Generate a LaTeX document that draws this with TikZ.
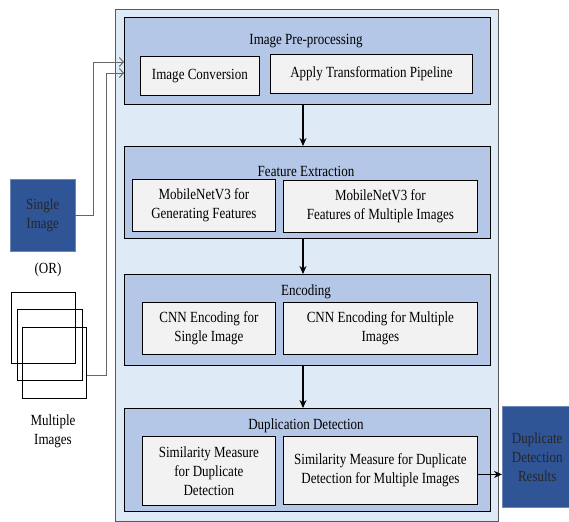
\documentclass[tikz,border=0pt]{standalone}
\usepackage{fontspec}
\setmainfont{Liberation Serif}[FakeStretch=0.84]
\usetikzlibrary{positioning,arrows.meta}

\definecolor{paneblue}{HTML}{DEEAF6}
\definecolor{stageblue}{HTML}{B4C7E7}
\definecolor{boxgray}{HTML}{F2F2F2}
\definecolor{darkblue}{HTML}{2F5597}

\begin{document}
\begin{tikzpicture} [x=1pt,y=-1pt,font=\fontsize{15.5}{19}\selectfont,
    stagebox/.style={draw,thick,fill=stageblue,anchor=north west,minimum width=366pt},
    stepbox/.style={draw,thick,fill=boxgray,anchor=north west,align=center,inner sep=1pt},
    ioblock/.style={fill=darkblue,draw=darkblue!70,anchor=north west,align=center,text=black!85},
    flow/.style={-{Stealth[length=8pt,width=7pt]},line width=1.6pt},
    feed/.style={-{Straight Barb[length=4pt,width=9pt]},draw=black!60,line width=0.9pt}]
    \useasboundingbox (0,0) rectangle (569,521);

    % container
    \node[draw=black!65,line width=1pt,fill=paneblue,anchor=north west,minimum width=383pt,minimum height=512pt] (pane) at (115,9) {};

    % stages
    \node[stagebox,minimum height=87pt] (pre) at (124,17) {};
    \node[stagebox,minimum height=92pt] (feat) at (124,146) {};
    \node[stagebox,minimum height=91pt] (enc) at (124,274) {};
    \node[stagebox,minimum height=103pt] (dup) at (124,408) {};

    \node (pretitle) at (306,41) {Image Pre-processing};
    \node (feattitle) at (306,171) {Feature Extraction};
    \node (enctitle) at (306,292) {Encoding};
    \node (duptitle) at (306,426) {Duplication Detection};

    \node[stepbox,minimum width=119pt,minimum height=39pt] (conv) at (140,56) {Image Conversion};
    \node[stepbox,minimum width=202pt,minimum height=39pt] (pipe) at (270,54) {Apply Transformation Pipeline};
    \node[stepbox,minimum width=143pt,minimum height=52pt] (mobsingle) at (132,179) {MobileNetV3 for\\Generating Features};
    \node[stepbox,minimum width=194pt,minimum height=52pt] (mobmulti) at (283,180) {MobileNetV3 for\\Features of Multiple Images};
    \node[stepbox,minimum width=133pt,minimum height=52pt] (cnnsingle) at (142,302) {CNN Encoding for\\Single Image};
    \node[stepbox,minimum width=194pt,minimum height=52pt] (cnnmulti) at (283,302) {CNN Encoding for Multiple\\Images};
    \node[stepbox,minimum width=133pt,minimum height=69pt] (simsingle) at (142,436) {Similarity Measure\\for Duplicate\\Detection};
    \node[stepbox,minimum width=194pt,minimum height=68pt] (simmulti) at (283,436) {Similarity Measure for Duplicate\\Detection for Multiple Images};

    % inputs and output
    \node[ioblock,minimum width=65pt,minimum height=72pt] (single) at (10,179) {Single\\Image};
    \node (ortext) at (48,270) {(OR)};
    \node[draw,thick,anchor=north west,minimum width=64pt,minimum height=71pt] (multione) at (11,292) {};
    \node[draw,thick,anchor=north west,minimum width=65pt,minimum height=71pt] (multitwo) at (17,309) {};
    \node[draw,thick,anchor=north west,minimum width=64pt,minimum height=71pt] (multithree) at (22,327) {};
    \node[align=center] (multitext) at (53,431) {Multiple\\Images};
    \node[ioblock,minimum width=70pt,minimum height=101pt] (result) at (502,406) {Duplicate\\Detection\\Results};

    \coordinate (inone) at (124,62);
    \coordinate (intwo) at (124,73);

    \draw[feed] (single.east) -- ++(18,0) |- (inone);
    \draw[feed] ([yshift=-13pt]multithree.east) -- ++(20,0) |- (intwo);

    \path (pre.south -| 303,0) edge [flow] (feat.north -| 303,0);
    \path (feat.south -| 303,0) edge [flow] (enc.north -| 303,0);
    \path (enc.south -| 303,0) edge [flow] (dup.north -| 303,0);
    \path ([yshift=-4pt]simmulti.east) edge [flow] ([yshift=-4pt]simmulti.east -| result.west);
\end{tikzpicture}
\end{document}
